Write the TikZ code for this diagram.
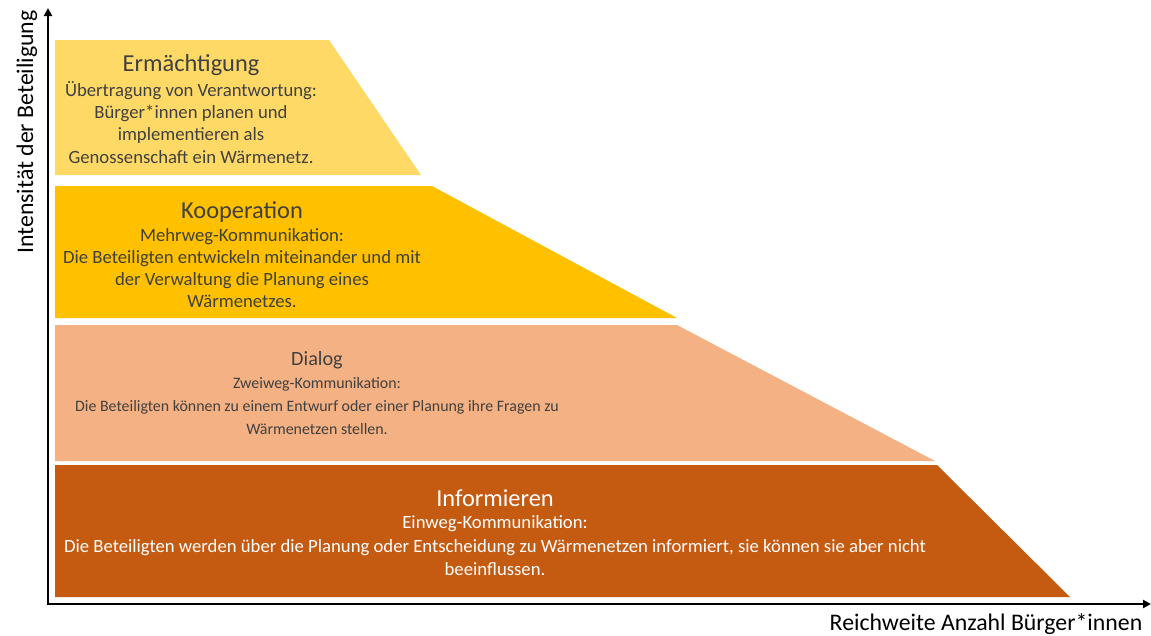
\documentclass[tikz,border=0pt]{standalone}
\usepackage{fontspec}
\setmainfont{Carlito}
\usetikzlibrary{positioning,arrows.meta}
\definecolor{ermColor}{HTML}{FFD966}
\definecolor{koopColor}{HTML}{FFC000}
\definecolor{dialColor}{HTML}{F4B183}
\definecolor{infoColor}{HTML}{C55A11}
\definecolor{textGray}{HTML}{404040}
\begin{document}
\begin{tikzpicture}[x=1pt,y=-1pt]
    % --- styles ---
    \tikzset{bandtitle/.style={inner sep=0pt,font=\fontsize{24.4}{28}\selectfont,text=textGray},
      bandbody/.style={inner sep=0pt,align=center,font=\fontsize{18.7}{22.2}\selectfont,text=textGray},
      axislabel/.style={inner sep=0pt,font=\fontsize{23.8}{28}\selectfont},
      axisline/.style={line width=2pt}}

    \useasboundingbox (0,0) rectangle (1151,635);

    % bands, bottom to top
    \fill[infoColor] (55,465) -- (937,465) -- (1070,597) -- (55,597) -- cycle;
    \fill[dialColor] (55,325) -- (677,325) -- (935,461) -- (55,461) -- cycle;
    \fill[koopColor] (55,186) -- (432,186) -- (677,318) -- (55,318) -- cycle;
    \fill[ermColor]  (55,40)  -- (329,40)  -- (421,175) -- (55,175) -- cycle;

    % axes
    \coordinate (origin) at (48,604);
    \coordinate (ytip) at (48,8);
    \coordinate (xtip) at (1151,604);
    \draw[axisline,{Triangle[length=8pt,width=8pt]}-{Triangle[length=8pt,width=8pt]}] (ytip) -- (origin) -- (xtip);
    \node[axislabel,rotate=90] (ylab) at (27,132) {Intensität der Beteiligung};
    \node[axislabel] (xlab) at (986,624) {Reichweite Anzahl Bürger*innen};

    % band texts
    \node[bandtitle] (ermT) at (191,65) {Ermächtigung};
    \node[bandbody,below=5.5pt of ermT] (ermB)
      {Übertragung von Verantwortung:\\Bürger*innen planen und\\implementieren als\\Genossenschaft ein Wärmenetz.};

    \node[bandtitle] (koopT) at (242,212) {Kooperation};
    \node[bandbody,below=5.5pt of koopT] (koopB)
      {Mehrweg-Kommunikation:\\Die Beteiligten entwickeln miteinander und mit\\der Verwaltung die Planung eines\\Wärmenetzes.};

    \node[bandtitle,font=\fontsize{20.2}{24}\selectfont] (dialT) at (317,360) {Dialog};
    \node[bandbody,font=\fontsize{15.9}{23}\selectfont,below=8pt of dialT] (dialB)
      {Zweiweg-Kommunikation:\\Die Beteiligten können zu einem Entwurf oder einer Planung ihre Fragen zu\\Wärmenetzen stellen.};

    \node[bandtitle,text=white] (infoT) at (495,498) {Informieren};
    \node[bandbody,font=\fontsize{18.7}{23.2}\selectfont,text=white,below=9pt of infoT] (infoB)
      {Einweg-Kommunikation:\\Die Beteiligten werden über die Planung oder Entscheidung zu Wärmenetzen informiert, sie können sie aber nicht\\beeinflussen.};
\end{tikzpicture}
\end{document}
